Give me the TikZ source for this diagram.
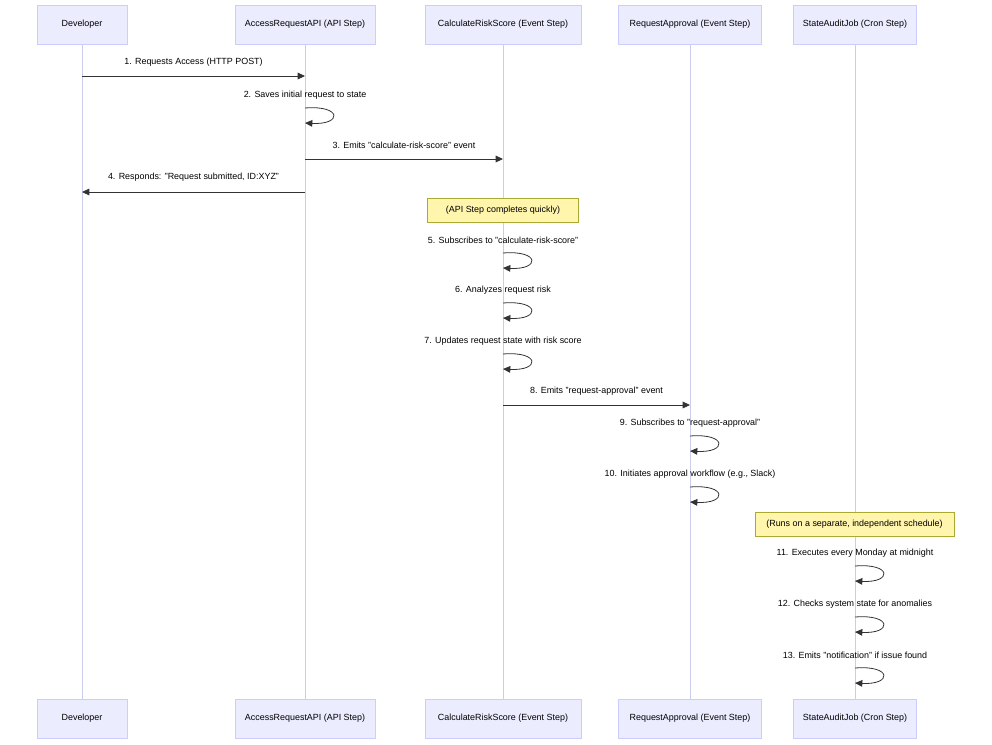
\documentclass[tikz,border=0pt]{standalone}
\usepackage{fontspec}
\setmainfont{Liberation Sans}
\usetikzlibrary{arrows.meta}
\tikzset{every picture/.style={line width=0.75pt}}
\tikzset{
  actor/.style={draw={rgb,255:red,204;green,204;blue,255}, fill={rgb,255:red,236;green,236;blue,255}, line width=0.6pt, minimum height=29.25pt, inner sep=0pt, font=\fontsize{6.7}{8}\selectfont},
  note/.style={draw={rgb,255:red,170;green,170;blue,51}, fill={rgb,255:red,255;green,245;blue,173}, line width=0.6pt, minimum height=18pt, inner sep=0pt, font=\fontsize{6.7}{8}\selectfont},
  lbl/.style={font=\fontsize{6.7}{8}\selectfont, inner sep=0.75pt},
  life/.style={draw={rgb,255:red,204;green,204;blue,235}, line width=0.6pt},
  msg/.style={draw={rgb,255:red,51;green,51;blue,51}, line width=0.6pt, -{Triangle[length=5.5pt,width=5pt]}}
}
\begin{document}
\begin{tikzpicture}[x=0.75pt,y=0.75pt,yscale=-1,xscale=1]
\useasboundingbox (0,0) rectangle (992,744);

% actors, top and bottom
\foreach \nm/\x/\w/\txt in {dev/82/90/Developer, api/305/140/AccessRequestAPI (API Step), risk/503/156/CalculateRiskScore (Event Step), appr/690/143/RequestApproval (Event Step), audit/855/123/StateAuditJob (Cron Step)}{
  \draw[life] (\x,44) -- (\x,699);
  \node[actor, minimum width=\w*0.75pt] (\nm top) at (\x,24.5) {\txt};
  \node[actor, minimum width=\w*0.75pt] (\nm bot) at (\x,718.5) {\txt};
  \coordinate (\nm) at (\x,0);
}

% messages between lifelines
\draw[msg] (dev |- 0,76) -- (api |- 0,76);
\node[lbl] at (193.5,62) {1. Requests Access (HTTP POST)};
\draw[msg] (api |- 0,159) -- (risk |- 0,159);
\node[lbl] at (404,145) {3. Emits "calculate-risk-score" event};
\draw[msg] (api |- 0,192) -- (dev |- 0,192);
\node[lbl] at (193.5,177) {4. Responds: "Request submitted, ID:XYZ"};
\draw[msg] (risk |- 0,405) -- (appr |- 0,405);
\node[lbl] at (596.5,391) {8. Emits "request-approval" event};

% self messages
\foreach \who/\y/\txt in {api/108/2. Saves initial request to state,
  risk/253/5. Subscribes to "calculate-risk-score",
  risk/303/6. Analyzes request risk,
  risk/354/7. Updates request state with risk score,
  appr/436/9. Subscribes to "request-approval",
  appr/487/{10. Initiates approval workflow (e.g., Slack)},
  audit/566/11. Executes every Monday at midnight,
  audit/617/12. Checks system state for anomalies,
  audit/668/13. Emits "notification" if issue found}{
  \draw[msg] (\who |- 0,\y) .. controls ([xshift=28pt] \who |- 0,\y-3) and ([xshift=28pt] \who |- 0,\y+17) .. (\who |- 0,\y+15);
  \node[lbl] at ([yshift=-7pt] \who |- 0,\y-3) {\txt};
}

% notes
\node[note, minimum width=113.25pt] (note1) at (503,210) {(API Step completes quickly)};
\node[note, minimum width=149.25pt] (note2) at (854.5,524) {(Runs on a separate, independent schedule)};
\end{tikzpicture}
\end{document}
